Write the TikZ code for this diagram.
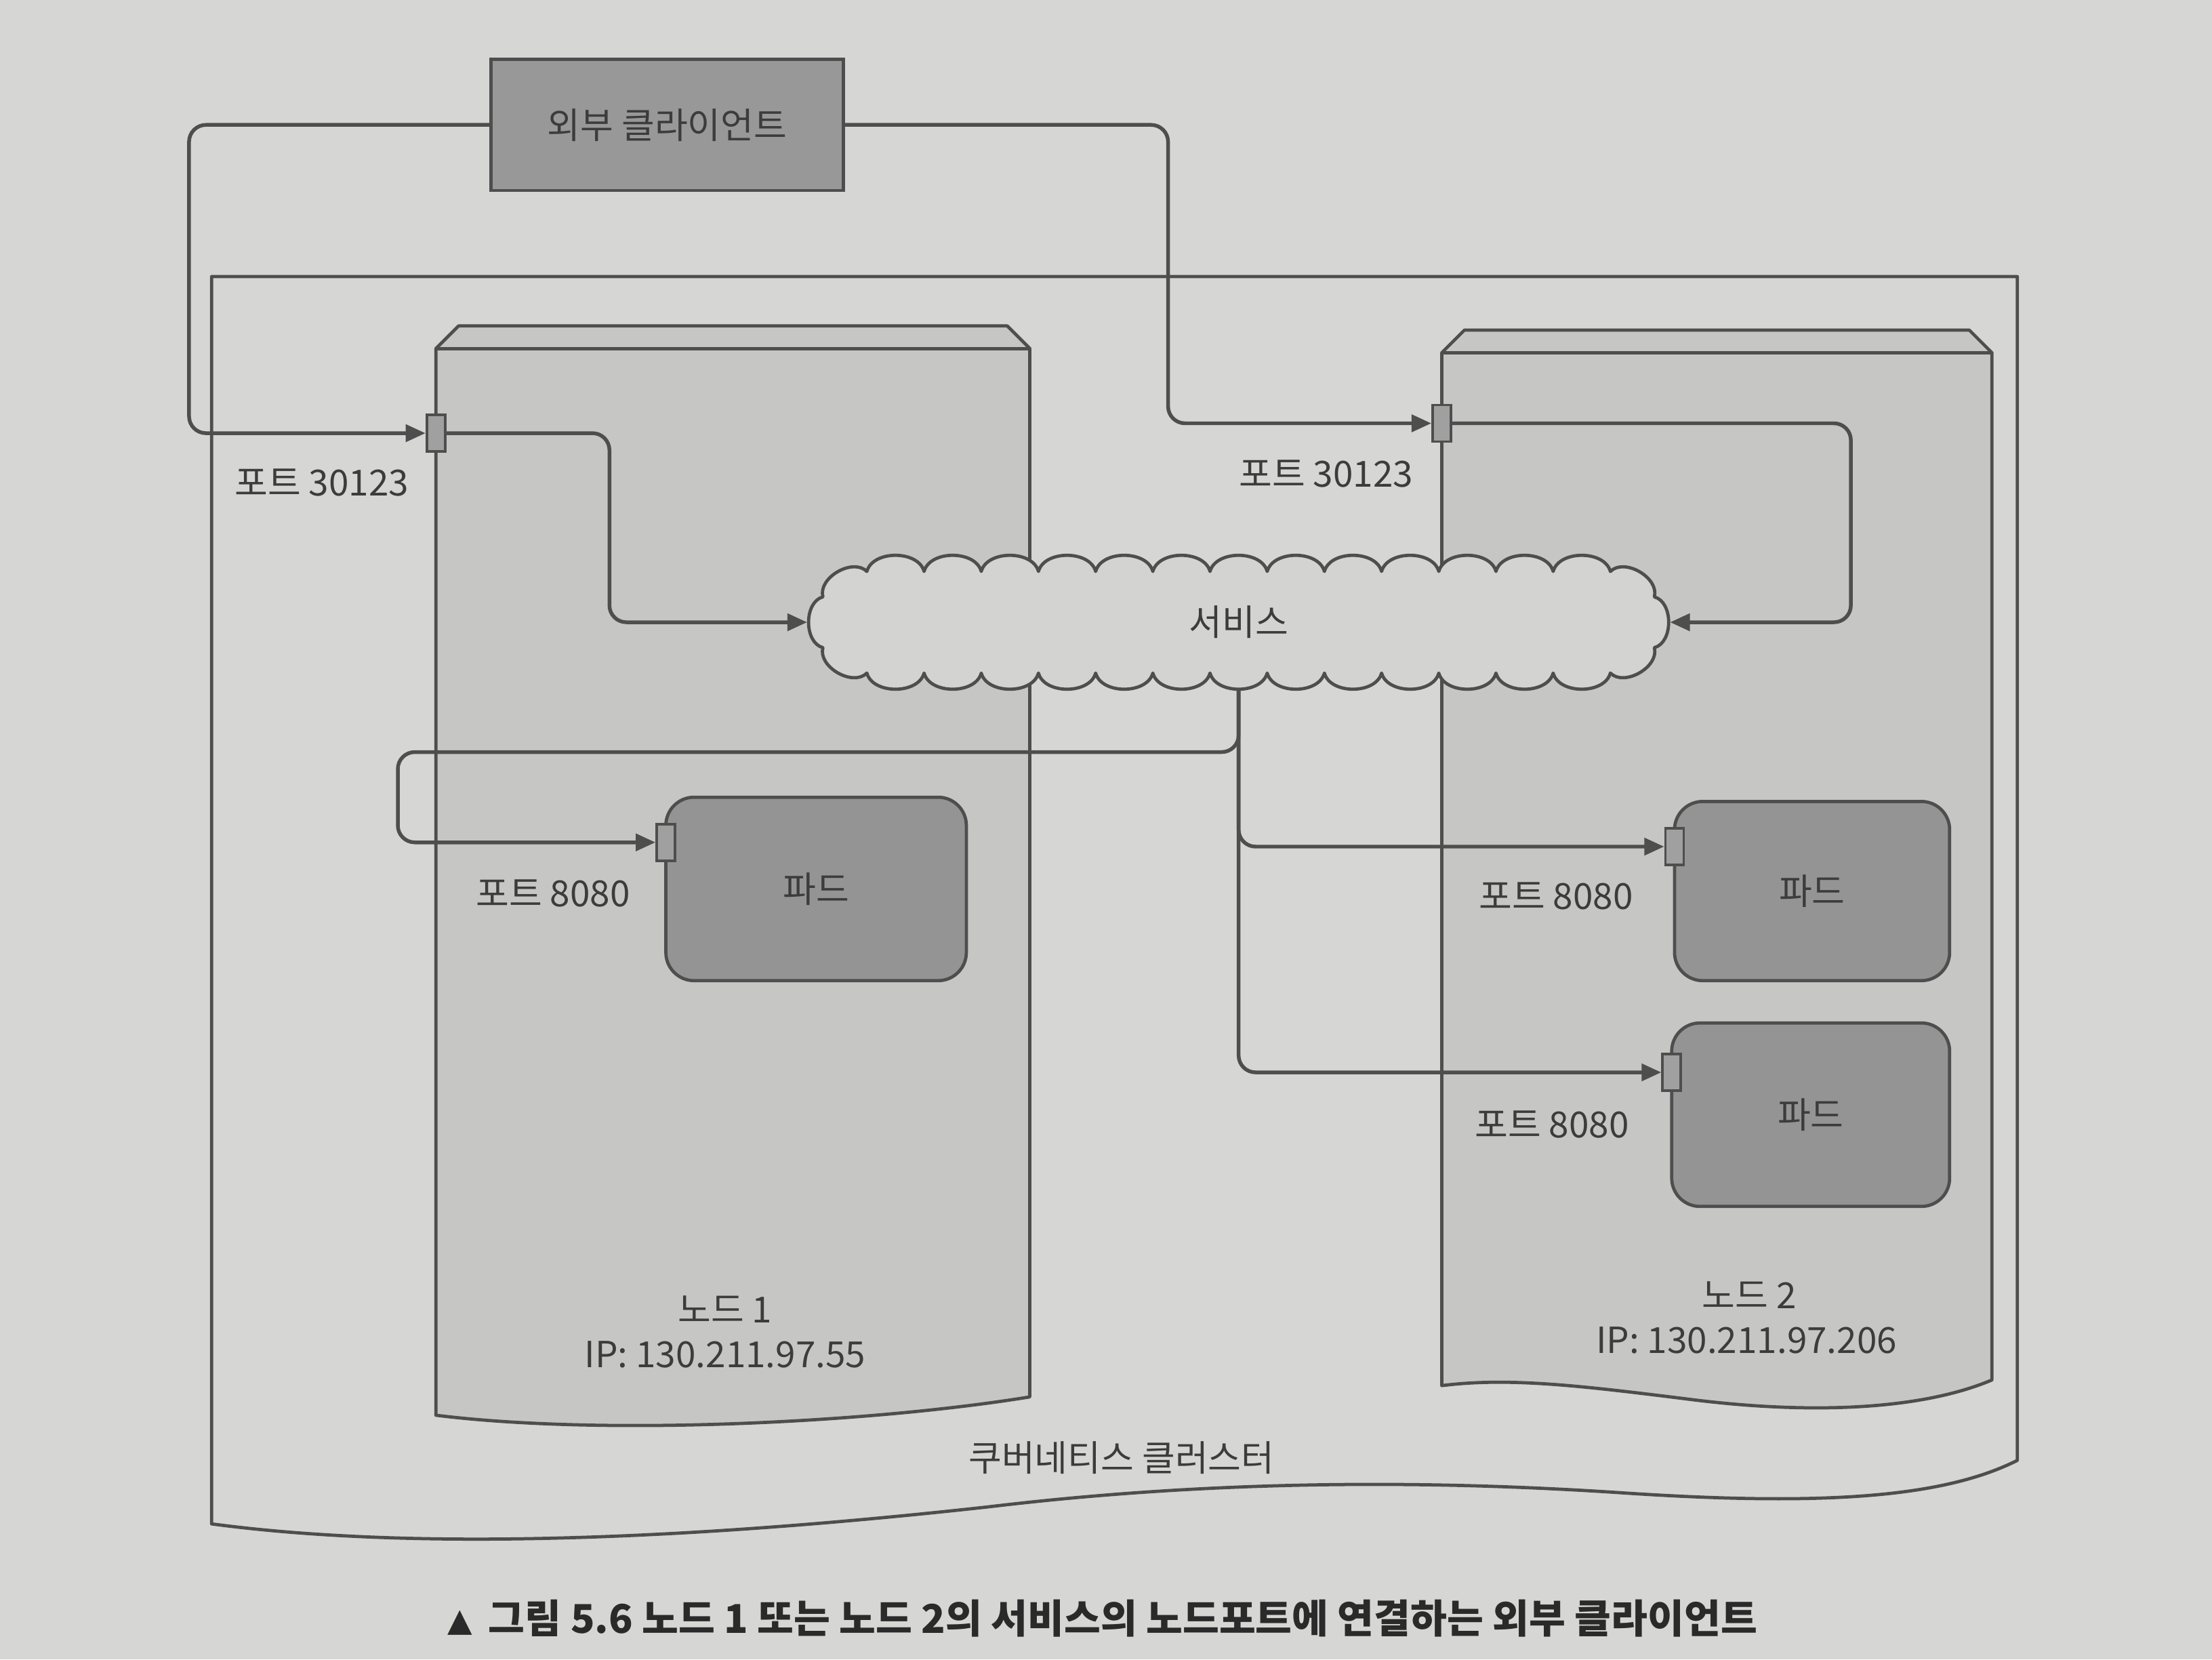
\documentclass[tikz,border=0pt]{standalone}
\usepackage{fontspec}
\setmainfont{Noto Sans CJK KR}
\newfontfamily\symfont{DejaVu Sans}
\usetikzlibrary{arrows.meta}
\definecolor{paper}{HTML}{D6D6D4}
\definecolor{nodec}{HTML}{C6C6C4}
\definecolor{cloudc}{HTML}{D3D3D1}
\definecolor{podc}{HTML}{949494}
\definecolor{clientc}{HTML}{989898}
\definecolor{portc}{HTML}{A0A0A0}
\definecolor{linec}{HTML}{4E4E4E}
\definecolor{textc}{HTML}{3C3C3C}
\definecolor{capc}{HTML}{2A2A2A}
\tikzset{
  conn/.style={draw=linec, line width=1.5pt, rounded corners=2.4mm, -{Triangle[length=2.8mm,width=2.4mm]}},
  shapeline/.style={draw=linec, line width=1.3pt, line join=round},
  portbox/.style={draw=linec, fill=portc, line width=1pt, minimum width=2.6mm, minimum height=5.2mm, inner sep=0pt},
  podbox/.style={draw=linec, fill=podc, line width=1.3pt, rounded corners=4mm, inner sep=0pt, text=textc, font=\fontsize{14.5}{17}\selectfont},
  lbl/.style={text=textc, font=\fontsize{14.5}{17}\selectfont, inner sep=0pt},
  cloudline/.style={draw=linec, fill=cloudc, line width=1.3pt, line join=round},
  puff/.style={bend left=75},
}
\begin{document}
\begin{tikzpicture}[x=0.2mm,y=-0.2mm]
\fill[paper] (0,0) rectangle (1568,1176);
\useasboundingbox (0,0) rectangle (1568,1176);

% cluster
\draw[shapeline] (150,1080) -- (150,196) -- (1430,196) -- (1430,1035)
  .. controls (1380,1060) and (1300,1068) .. (1150,1058)
  .. controls (1000,1048) and (850,1050) .. (700,1068)
  .. controls (500,1090) and (300,1100) .. (150,1080) -- cycle;
\node[lbl] (clusterlbl) at (795,1033) {쿠버네티스 클러스터};

% node 1
\draw[shapeline, fill=nodec] (309,1003) -- (309,247) -- (325,231) -- (714,231) -- (730,247) -- (730,990)
  .. controls (620,1008) and (430,1018) .. (309,1003) -- cycle;
\draw[shapeline] (309,247) -- (730,247);
\node[lbl] (n1name) at (514,928) {노드 1};
\node[lbl] (n1ip) at (514,960) {IP: 130.211.97.55};

% node 2
\draw[shapeline, fill=nodec] (1022,982) -- (1022,250) -- (1038,234) -- (1396,234) -- (1412,250) -- (1412,978)
  .. controls (1360,1000) and (1280,1002) .. (1200,992)
  .. controls (1120,982) and (1070,976) .. (1022,982) -- cycle;
\draw[shapeline] (1022,250) -- (1412,250);
\node[lbl] (n2name) at (1240,918) {노드 2};
\node[lbl] (n2ip) at (1238,950) {IP: 130.211.97.206};

% external client
\node[draw=linec, fill=clientc, line width=1.3pt, minimum width=50mm, minimum height=18.6mm, inner sep=0pt,
      text=textc, font=\fontsize{14.5}{17}\selectfont] (client) at (473,88.5) {외부 클라이언트};

% service cloud: invisible frame node for anchors
\node[minimum width=125mm, minimum height=20mm, inner sep=0pt] (svc) at (878,441) {};

% pods
\node[podbox, minimum width=42.6mm, minimum height=26mm] (pod1) at (578.5,630) {파드};
\node[podbox, minimum width=39mm, minimum height=25.4mm] (pod2) at (1284.5,631.5) {파드};
\node[podbox, minimum width=39.4mm, minimum height=26mm] (pod3) at (1283.5,790) {파드};

% helper coordinates for connector routes
\coordinate (xa) at (134,0);
\coordinate (xb) at (828,0);
\coordinate (xc) at (432,0);
\coordinate (xd) at (1312,0);
\coordinate (xe) at (282,0);
\coordinate (ye) at (0,533);
\coordinate (svcbot) at ([yshift=3.5mm]svc.south);
\coordinate (svcw) at ([xshift=1.4mm]svc.west);
\coordinate (svce) at ([xshift=-1.4mm]svc.east);

% ports
\node[portbox] (p1) at (309,307) {};
\node[portbox] (p2) at (1022,300) {};
\node[portbox] (pp1) at (472,597) {};
\node[portbox] (pp2) at (1187,600) {};
\node[portbox] (pp3) at (1185,760) {};

% connectors leaving the service (start hidden under the cloud)
\draw[conn] (svcbot) -- (svcbot |- ye) -- (xe |- ye) -- (xe |- pp1.west) -- (pp1.west);
\draw[conn] (svcbot) -- (svcbot |- pp2.west) -- (pp2.west);
\draw[conn] (svcbot) -- (svcbot |- pp3.west) -- (pp3.west);

% cloud outline: puffs along a stadium, drawn in an upright mm frame
\begin{scope}[shift={(svc.center)}, x=1mm, y=1mm]
  \path[cloudline] (-52.7,7.2)
    foreach \i in {1,...,13} { to[puff] ({-52.7+\i*105.4/13},7.2) }
    foreach \a in {60,120,180} { to[puff] ({52.7+7.2*sin(\a)},{7.2*cos(\a)}) }
    foreach \i in {1,...,13} { to[puff] ({52.7-\i*105.4/13},-7.2) }
    foreach \a in {60,120,180} { to[puff] ({-52.7-7.2*sin(\a)},{-7.2*cos(\a)}) }
    -- cycle;
\end{scope}
\node[lbl] (svclbl) at (svc.center) {서비스};

% connectors into ports and into the service
\draw[conn] (client.west) -- (client.west -| xa) -- (xa |- p1.west) -- (p1.west);
\draw[conn] (client.east) -- (client.east -| xb) -- (xb |- p2.west) -- (p2.west);
\draw[conn] (p1.east) -- (p1.east -| xc) -- (xc |- svcw) -- (svcw);
\draw[conn] (p2.east) -- (p2.east -| xd) -- (xd |- svce) -- (svce);

% ports on top
\node[portbox] at (p1) {};
\node[portbox] at (p2) {};
\node[portbox] at (pp1) {};
\node[portbox] at (pp2) {};
\node[portbox] at (pp3) {};

% port labels
\node[lbl] (p1lbl) at (228,342) {포트 30123};
\node[lbl] (p2lbl) at (940,336) {포트 30123};
\node[lbl] (pp1lbl) at (392,633) {포트 8080};
\node[lbl] (pp2lbl) at (1103,635) {포트 8080};
\node[lbl] (pp3lbl) at (1100,797) {포트 8080};

% caption
\node[text=capc, inner sep=0pt, font=\symfont\fontsize{13}{15}\selectfont] (captri) at (326,1150) {▲};
\node[anchor=west, text=capc, inner sep=0pt, font=\bfseries\fontsize{16}{19}\selectfont] (caption) at (346,1147)
  {그림 5.6 노드 1 또는 노드 2의 서비스의 노드포트에 연결하는 외부 클라이언트};
\end{tikzpicture}
\end{document}
